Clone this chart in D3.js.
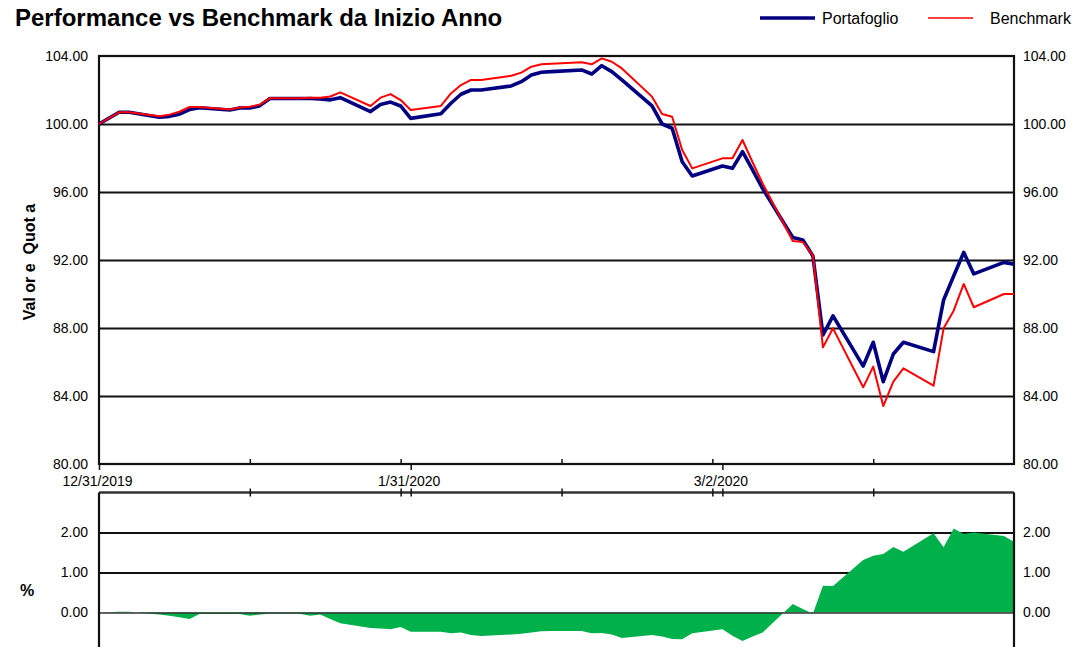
<!DOCTYPE html>
<html>
<head>
<meta charset="utf-8">
<script src="https://cdn.jsdelivr.net/npm/d3@7"></script>
<style>
  html, body { margin: 0; padding: 0; background: #fff; overflow: hidden; }
  svg { display: block; font-family: "Liberation Sans", Arial, sans-serif; }
</style>
</head>
<body>
<svg id="chart" width="1072" height="647"></svg>
<script>
// ---------------- DATA ----------------
const dates = [
  "2019-12-31",
  "2020-01-02","2020-01-03","2020-01-06","2020-01-07","2020-01-08","2020-01-09","2020-01-10",
  "2020-01-13","2020-01-14","2020-01-15","2020-01-16","2020-01-17",
  "2020-01-20","2020-01-21","2020-01-22","2020-01-23","2020-01-24",
  "2020-01-27","2020-01-28","2020-01-29","2020-01-30","2020-01-31",
  "2020-02-03","2020-02-04","2020-02-05","2020-02-06","2020-02-07",
  "2020-02-10","2020-02-11","2020-02-12","2020-02-13","2020-02-14",
  "2020-02-17","2020-02-18","2020-02-19","2020-02-20","2020-02-21",
  "2020-02-24","2020-02-25","2020-02-26","2020-02-27","2020-02-28",
  "2020-03-02","2020-03-03","2020-03-04","2020-03-05","2020-03-06",
  "2020-03-09","2020-03-10","2020-03-11","2020-03-12","2020-03-13",
  "2020-03-16","2020-03-17","2020-03-18","2020-03-19","2020-03-20",
  "2020-03-23","2020-03-24","2020-03-25","2020-03-26","2020-03-27",
  "2020-03-30","2020-03-31"
];
const portafoglio = [
  100.00,
  100.69,100.69,100.40,100.45,100.58,100.85,100.96,
  100.82,100.94,100.94,101.08,101.50,
  101.50,101.50,101.47,101.42,101.55,
  100.73,101.15,101.29,101.06,100.33,
  100.60,101.22,101.75,102.00,102.00,
  102.24,102.49,102.88,103.04,103.08,
  103.18,102.94,103.43,103.08,102.59,
  101.06,100.00,99.75,97.78,96.94,
  97.53,97.39,98.37,97.30,96.20,
  93.32,93.18,92.24,87.59,88.71,
  85.76,87.16,84.84,86.47,87.16,
  86.61,89.65,91.06,92.45,91.18,
  91.86,91.75
];
const benchmark = [
  100.00,
  100.69,100.69,100.45,100.55,100.72,101.00,101.00,
  100.85,100.97,101.02,101.14,101.52,
  101.52,101.55,101.55,101.62,101.86,
  101.06,101.55,101.76,101.41,100.82,
  101.06,101.80,102.29,102.59,102.59,
  102.84,103.02,103.37,103.51,103.55,
  103.63,103.51,103.86,103.66,103.27,
  101.61,100.59,100.43,98.47,97.39,
  97.98,97.98,99.06,97.75,96.50,
  93.12,93.06,92.27,86.86,87.98,
  84.51,85.73,83.41,84.84,85.63,
  84.61,87.98,89.02,90.59,89.22,
  90.00,90.00
];
const differenza = [
  0.00,
  0.02,0.02,-0.05,-0.08,-0.12,-0.16,-0.04,
  -0.04,-0.04,-0.08,-0.05,-0.03,
  -0.03,-0.08,-0.05,-0.16,-0.27,
  -0.39,-0.40,-0.42,-0.36,-0.48,
  -0.48,-0.52,-0.50,-0.56,-0.59,
  -0.55,-0.53,-0.50,-0.47,-0.46,
  -0.46,-0.52,-0.51,-0.55,-0.64,
  -0.56,-0.60,-0.66,-0.67,-0.52,
  -0.42,-0.58,-0.71,-0.60,-0.50,
  0.21,0.09,-0.03,0.67,0.66,
  1.31,1.42,1.46,1.64,1.52,
  1.98,1.63,2.10,1.96,2.00,
  1.91,1.77
];
const topTicks = [80, 84, 88, 92, 96, 100, 104];
const bottomTicks = [0, 1, 2];
const labelTickDates = ["2019-12-31", "2020-01-31", "2020-03-02"];
const labelTickText = ["12/31/2019", "1/31/2020", "3/2/2020"];
const minorTickDates = ["2020-01-15", "2020-01-30", "2020-02-15", "2020-03-01", "2020-03-17"];
const seriesNames = ["Portafoglio", "Benchmark"];
const titleText = "Performance vs Benchmark da Inizio Anno";
const yTitleTop = "Val or e  Quot a";
const yTitleBottom = "%";

// ---------------- LAYOUT ----------------
const parse = d3.utcParse("%Y-%m-%d");
const D = dates.map(parse);
const L = 99, R = 1014;
const svg = d3.select("#chart");
const FONT = "Liberation Sans, Arial, sans-serif";

const x = d3.scaleUtc().domain([parse("2019-12-31"), parse("2020-03-31")]).range([L, R]);
const yTop = d3.scaleLinear().domain([80, 104]).range([464, 56]);
const yBot = d3.scaleLinear().domain([-1, 3]).range([652.5, 492.5]);

const gridColor = "#111";

// Title
svg.append("text").attr("x", 15).attr("y", 26)
  .attr("font-size", 24).attr("font-weight", "bold").attr("fill", "#000")
  .text(titleText);

// Legend
const legendItems = [
  {name: seriesNames[0], color: "#000080", w: 3.5, x1: 760, x2: 815, tx: 822},
  {name: seriesNames[1], color: "#ff0000", w: 1.5, x1: 928, x2: 973, tx: 990}
];
legendItems.forEach(it => {
  svg.append("line").attr("x1", it.x1).attr("x2", it.x2).attr("y1", 18).attr("y2", 18)
    .attr("stroke", it.color).attr("stroke-width", it.w);
  svg.append("text").attr("x", it.tx).attr("y", 24).attr("font-size", 16).attr("fill", "#000").text(it.name);
});

// ---------- Top panel ----------
const gTop = svg.append("g");
gTop.append("g").attr("transform", `translate(${L},0)`)
  .call(d3.axisLeft(yTop).tickValues(topTicks.filter(t => t > 80 && t < 104)).tickSize(-(R - L)).tickFormat(""))
  .call(g => g.select(".domain").remove())
  .call(g => g.selectAll("line").attr("stroke", gridColor).attr("stroke-width", 2));
gTop.append("g").attr("transform", `translate(${L},0)`)
  .call(d3.axisLeft(yTop).tickValues(topTicks).tickSize(0).tickPadding(11).tickFormat(d3.format(".2f")))
  .call(g => g.select(".domain").remove())
  .call(g => g.selectAll("text").attr("font-size", 14).attr("font-family", FONT).attr("fill", "#000"));
gTop.append("g").attr("transform", `translate(${R},0)`)
  .call(d3.axisRight(yTop).tickValues(topTicks).tickSize(0).tickPadding(9).tickFormat(d3.format(".2f")))
  .call(g => g.select(".domain").remove())
  .call(g => g.selectAll("text").attr("font-size", 14).attr("font-family", FONT).attr("fill", "#000"));
gTop.append("rect").attr("x", L).attr("y", yTop(104)).attr("width", R - L).attr("height", yTop(80) - yTop(104))
  .attr("fill", "none").attr("stroke", gridColor).attr("stroke-width", 2.2);

gTop.append("g").attr("transform", `translate(0,${yTop(80)})`)
  .call(d3.axisBottom(x).tickValues(minorTickDates.map(parse)).tickSize(-5).tickFormat(""))
  .call(g => g.select(".domain").remove())
  .call(g => g.selectAll("line").attr("stroke", gridColor).attr("stroke-width", 1.5));
gTop.append("g").attr("transform", `translate(0,${yTop(80)})`)
  .call(d3.axisBottom(x).tickValues(labelTickDates.map(parse)).tickSize(6).tickPadding(6)
    .tickFormat((d, i) => labelTickText[i]))
  .call(g => g.select(".domain").remove())
  .call(g => g.selectAll("line").attr("stroke", gridColor).attr("stroke-width", 1.5))
  .call(g => g.selectAll("text").attr("font-size", 14).attr("font-family", FONT).attr("fill", "#000").attr("dx", -2));

const lineP = d3.line().x((d, i) => x(D[i])).y(d => yTop(d));
gTop.append("path").datum(portafoglio).attr("d", lineP)
  .attr("fill", "none").attr("stroke", "#000080").attr("stroke-width", 3.6).attr("stroke-linejoin", "round");
gTop.append("path").datum(benchmark).attr("d", lineP)
  .attr("fill", "none").attr("stroke", "#ff0000").attr("stroke-width", 2).attr("stroke-linejoin", "round");

svg.append("text").attr("transform", `translate(35,262) rotate(-90)`)
  .attr("text-anchor", "middle").attr("font-size", 16).attr("font-weight", "bold").attr("fill", "#000")
  .style("white-space", "pre").attr("xml:space", "preserve")
  .text(yTitleTop);

// ---------- Bottom panel ----------
const gBot = svg.append("g");
gBot.append("g").attr("transform", `translate(${L},0)`)
  .call(d3.axisLeft(yBot).tickValues(bottomTicks.filter(t => t > 0)).tickSize(-(R - L)).tickFormat(""))
  .call(g => g.select(".domain").remove())
  .call(g => g.selectAll("line").attr("stroke", gridColor).attr("stroke-width", 2));

const area = d3.area().x((d, i) => x(D[i])).y0(yBot(0)).y1(d => yBot(d));
gBot.append("path").datum(differenza).attr("d", area).attr("fill", "#00b04a");

gBot.append("g").attr("transform", `translate(${L},0)`)
  .call(d3.axisLeft(yBot).tickValues([0]).tickSize(-(R - L)).tickFormat(""))
  .call(g => g.select(".domain").remove())
  .call(g => g.selectAll("line").attr("stroke", "#333").attr("stroke-width", 1.5));

gBot.append("g").attr("transform", `translate(${L},0)`)
  .call(d3.axisLeft(yBot).tickValues(bottomTicks).tickSize(0).tickPadding(11).tickFormat(d3.format(".2f")))
  .call(g => g.select(".domain").remove())
  .call(g => g.selectAll("text").attr("font-size", 14).attr("font-family", FONT).attr("fill", "#000"));
gBot.append("g").attr("transform", `translate(${R},0)`)
  .call(d3.axisRight(yBot).tickValues(bottomTicks).tickSize(0).tickPadding(9).tickFormat(d3.format(".2f")))
  .call(g => g.select(".domain").remove())
  .call(g => g.selectAll("text").attr("font-size", 14).attr("font-family", FONT).attr("fill", "#000"));

const bTop = yBot(3);
gBot.append("line").attr("x1", L).attr("x2", R).attr("y1", bTop).attr("y2", bTop)
  .attr("stroke", "#333").attr("stroke-width", 2.6);
gBot.append("line").attr("x1", L).attr("x2", L).attr("y1", bTop).attr("y2", 660)
  .attr("stroke", gridColor).attr("stroke-width", 2.2);
gBot.append("line").attr("x1", R).attr("x2", R).attr("y1", bTop).attr("y2", 660)
  .attr("stroke", gridColor).attr("stroke-width", 2.2);

const allTicks = minorTickDates.concat(labelTickDates.slice(1)).map(parse);
gBot.append("g").attr("transform", `translate(0,${bTop})`)
  .call(d3.axisBottom(x).tickValues(allTicks).tickSizeInner(4).tickSizeOuter(0).tickFormat(""))
  .call(g => g.select(".domain").remove())
  .call(g => g.selectAll("line").attr("stroke", gridColor).attr("stroke-width", 1.5));
gBot.append("g").attr("transform", `translate(0,${bTop})`)
  .call(d3.axisTop(x).tickValues(allTicks).tickSizeInner(4).tickSizeOuter(0).tickFormat(""))
  .call(g => g.select(".domain").remove())
  .call(g => g.selectAll("line").attr("stroke", gridColor).attr("stroke-width", 1.5));

svg.append("text").attr("x", 27).attr("y", 596).attr("text-anchor", "middle")
  .attr("font-size", 16).attr("font-weight", "bold").attr("fill", "#000").text(yTitleBottom);
</script>
</body>
</html>
